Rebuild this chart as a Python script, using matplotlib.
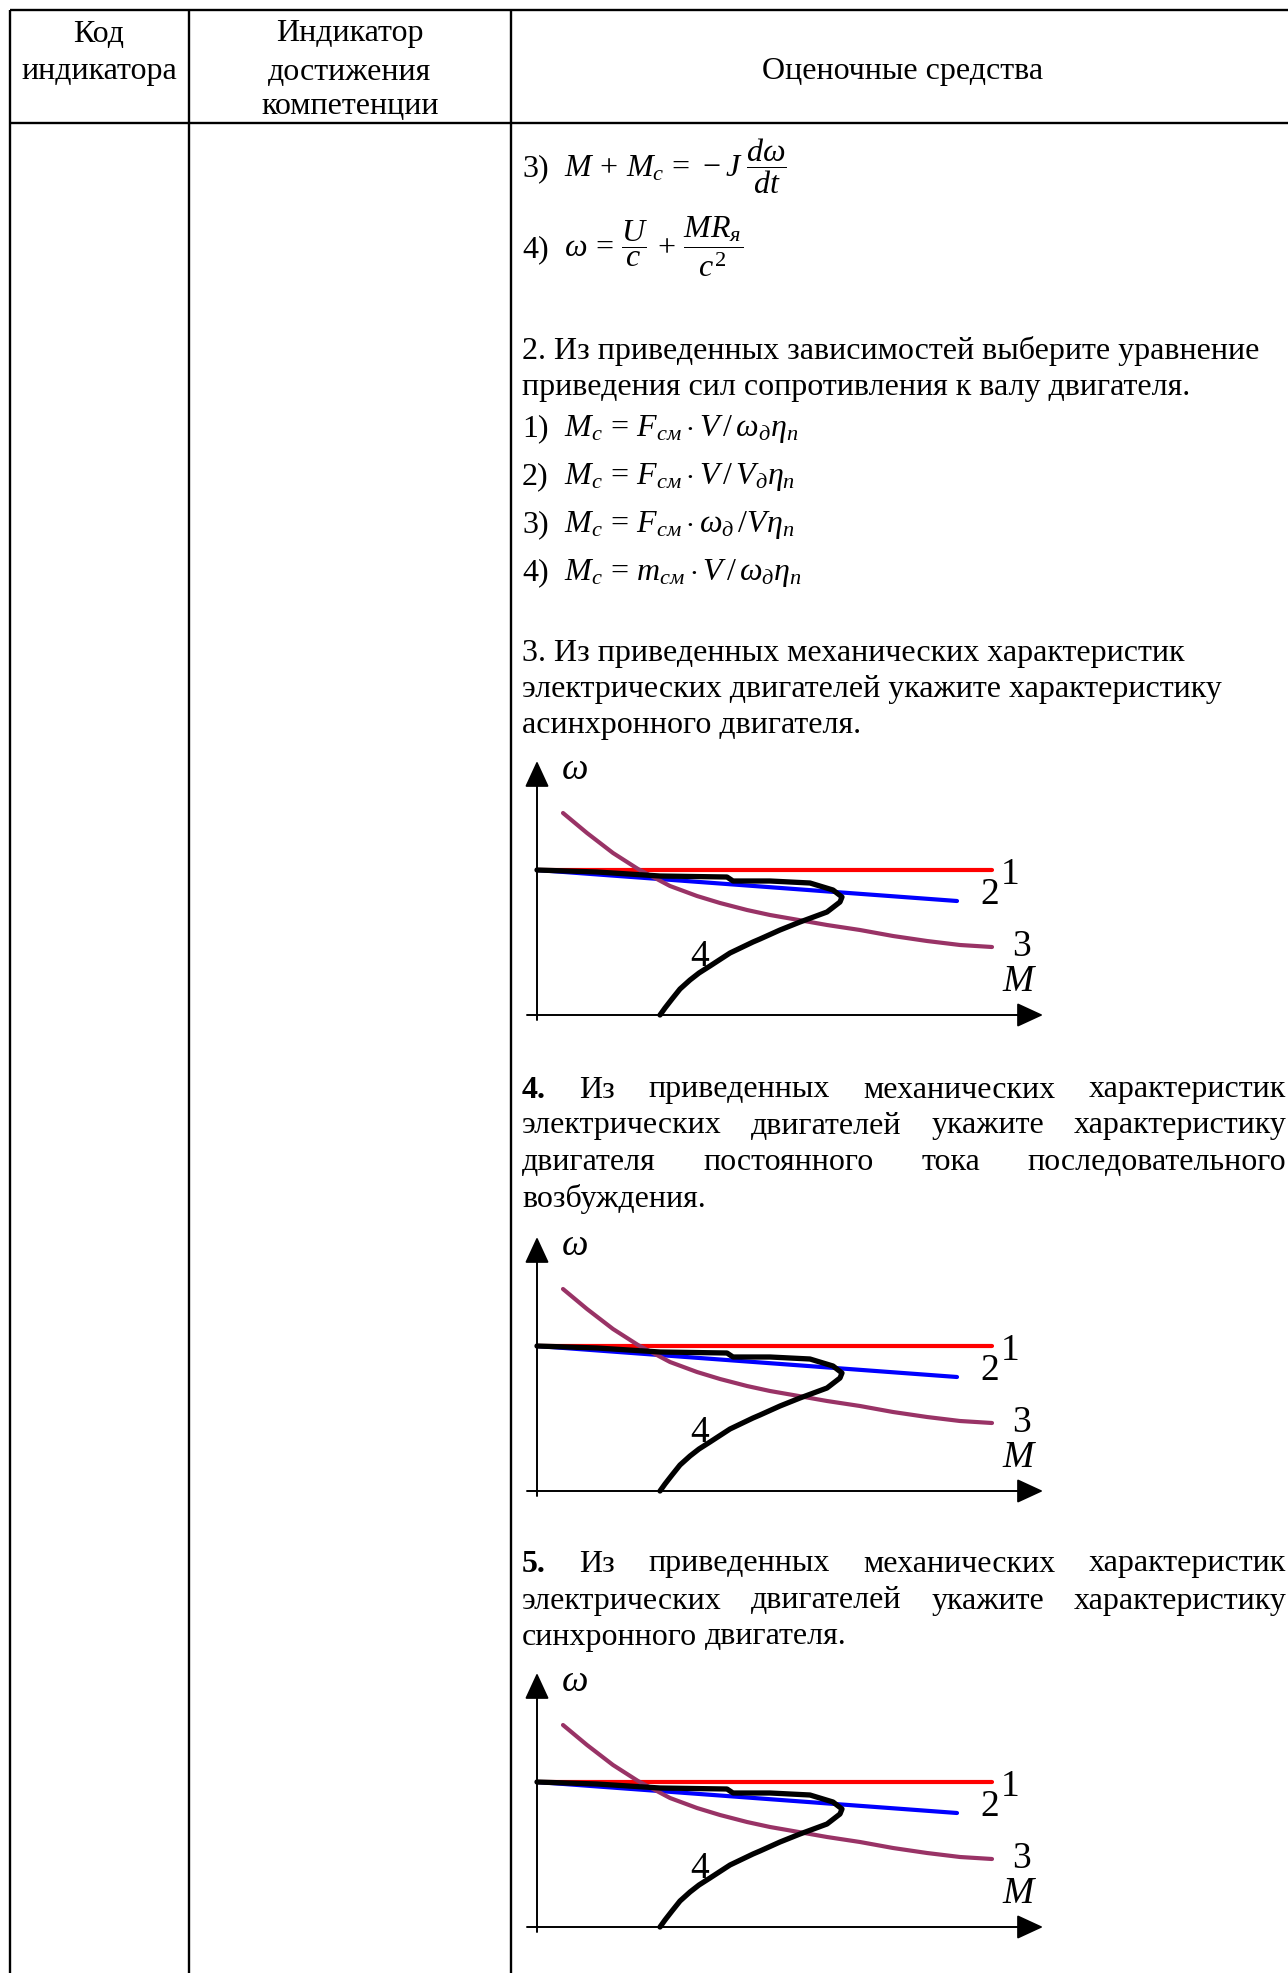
import matplotlib
matplotlib.use("Agg")
import matplotlib.pyplot as plt

# ---------------- data (chart curves, M and omega in chart units) ----------------
red_M = [0.0, 4.55]
red_w = [1.45, 1.45]

blue_M = [0.0, 4.20]
blue_w = [1.45, 1.14]

purple_M = [0.26, 0.50, 0.76, 1.01, 1.33, 1.60, 1.83, 2.10, 2.33, 2.56, 2.90,
            3.23, 3.56, 3.90, 4.23, 4.55]
purple_w = [2.02, 1.82, 1.62, 1.46, 1.29, 1.19, 1.12, 1.05, 1.00, 0.96, 0.90,
            0.85, 0.79, 0.74, 0.70, 0.68]

black_M = [0.0, 0.60, 1.23, 1.90, 1.96, 2.33, 2.73, 2.96, 3.05, 3.03, 2.90,
           2.63, 2.43, 2.23, 2.16, 1.93, 1.73, 1.62, 1.53, 1.43, 1.35, 1.28, 1.23]
black_w = [1.45, 1.43, 1.39, 1.38, 1.34, 1.34, 1.32, 1.25, 1.18, 1.13, 1.03,
           0.93, 0.85, 0.76, 0.73, 0.62, 0.49, 0.42, 0.35, 0.26, 0.16, 0.07, 0.0]

curve_labels = ["1", "2", "3", "4"]

# ---------------- texts ----------------
header_col1 = ["Код", "индикатора"]
header_col2 = ["Индикатор", "достижения", "компетенции"]
header_col3 = ["Оценочные средства"]

formulas_top = [
    ("3)", r"$\mathit{M}\, +\, \mathit{M}_{\mathit{с}}\, =\, -\mathit{J}\;\dfrac{\mathit{d}\omega}{\mathit{dt}}$"),
    ("4)", r"$\omega\, =\, \dfrac{\mathit{U}}{\mathit{c}}\, +\, \dfrac{\mathit{MR}_{\mathit{я}}}{\mathit{c}^{2}}$"),
]
par2 = ["2. Из приведенных зависимостей выберите уравнение",
        "приведения сил сопротивления к валу двигателя."]
answers2 = [
    ("1)", r"$\mathit{M}_{\mathit{с}}\, =\, \mathit{F}_{\mathit{см}}\cdot \mathit{V}\,/\,\omega_{\mathit{д}}\eta_{\mathit{п}}$"),
    ("2)", r"$\mathit{M}_{\mathit{с}}\, =\, \mathit{F}_{\mathit{см}}\cdot \mathit{V}\,/\,\mathit{V}_{\mathit{д}}\eta_{\mathit{п}}$"),
    ("3)", r"$\mathit{M}_{\mathit{с}}\, =\, \mathit{F}_{\mathit{см}}\cdot \omega_{\mathit{д}}\,/\mathit{V}\eta_{\mathit{п}}$"),
    ("4)", r"$\mathit{M}_{\mathit{с}}\, =\, \mathit{m}_{\mathit{см}}\cdot \mathit{V}\,/\,\omega_{\mathit{д}}\eta_{\mathit{п}}$"),
]
par3 = ["3. Из приведенных механических характеристик",
        "электрических двигателей укажите характеристику",
        "асинхронного двигателя."]
par4 = ["4. Из приведенных механических характеристик",
        "электрических двигателей укажите характеристику",
        "двигателя постоянного тока последовательного",
        "возбуждения."]
par5 = ["5. Из приведенных механических характеристик",
        "электрических двигателей укажите характеристику",
        "синхронного двигателя."]

# ---------------- style ----------------
plt.rcParams['font.family'] = ['Liberation Serif', 'DejaVu Serif']
plt.rcParams['mathtext.fontset'] = 'custom'
plt.rcParams['mathtext.rm'] = 'Liberation Serif'
plt.rcParams['mathtext.it'] = 'Liberation Serif:italic'
plt.rcParams['mathtext.bf'] = 'Liberation Serif:bold'

W, H = 1288, 1973
FS = 23
LBL = 27
DY = 3  # small downward shift of all text rows

fig = plt.figure(figsize=(W / 100, H / 100), dpi=100)
base = fig.add_axes([0, 0, 1, 1])
base.set_xlim(0, W)
base.set_ylim(H, 0)
base.axis('off')
renderer = fig.canvas.get_renderer()

# table grid
lw_t = 1.7
for x in [10, 189, 511]:
    base.plot([x, x], [10, H], color='black', lw=lw_t, solid_capstyle='butt')
for y in [10, 123]:
    base.plot([10, W], [y, y], color='black', lw=lw_t, solid_capstyle='butt')

# header
for txt, y in zip(header_col1, [31, 69]):
    base.text(99, y + DY, txt, fontsize=FS, ha='center', va='center')
for txt, y in zip(header_col2, [31, 69, 104]):
    base.text(350, y + DY, txt, fontsize=FS, ha='center', va='center')
base.text(903, 69 + DY, header_col3[0], fontsize=FS, ha='center', va='center')

X0 = 522
XR = 1286


def left_lines(lines, ys):
    for txt, y in zip(lines, ys):
        base.text(X0, y + DY, txt, fontsize=FS, ha='left', va='center')


def justify_lines(lines, ys):
    for k, (line, y) in enumerate(zip(lines, ys)):
        words = line.split()
        objs = []
        for i, w in enumerate(words):
            bold = (k == 0 and i == 0)
            objs.append(base.text(X0, y + DY, w, fontsize=FS, ha='left', va='center',
                                  fontweight='bold' if bold else 'normal'))
        widths = [t.get_window_extent(renderer).width for t in objs]
        if k == len(lines) - 1 or len(words) < 2:
            gap = FS * 0.25 * 100 / 72
        else:
            gap = (XR - X0 - sum(widths)) / (len(words) - 1)
        x = X0
        for t, wd in zip(objs, widths):
            t.set_x(x)
            x += wd + gap


def formula_lines(items, ys):
    # number and formula share one baseline
    for (num, f), y in zip(items, ys):
        yb = y + DY + 8
        base.text(X0, yb, num, fontsize=FS, ha='left', va='baseline')
        base.text(564, yb, f, fontsize=FS, ha='left', va='baseline')


formula_lines(formulas_top, [165, 246])
left_lines(par2, [348, 385])
formula_lines(answers2, [425, 473, 521, 569])
left_lines(par3, [650, 687, 723])
justify_lines(par4, [1087, 1123, 1160, 1196])
justify_lines(par5, [1561, 1598, 1634])


def draw_chart(y0):
    # y0 is the pixel row of the M axis, the omega axis sits at x = 537 px
    left, right = 515, 1055
    top, bottom = y0 - 262, y0 + 12
    ax = fig.add_axes([left / W, 1 - bottom / H, (right - left) / W, (bottom - top) / H])
    ax.set_xlim((left - 537) / 100, (right - 537) / 100)
    ax.set_ylim(-(bottom - y0) / 100, (y0 - top) / 100)
    ax.axis('off')

    arrow = dict(arrowstyle='-|>,head_length=0.65,head_width=0.3', color='black',
                 lw=1.4, mutation_scale=25, shrinkA=0, shrinkB=0)
    ax.annotate('', xy=(5.06, 0), xytext=(-0.10, 0), arrowprops=arrow)
    ax.annotate('', xy=(0, 2.54), xytext=(0, -0.05), arrowprops=arrow)

    ax.plot(red_M, red_w, color='#ff0000', lw=3.0, solid_capstyle='round')
    ax.plot(blue_M, blue_w, color='#0000ff', lw=3.0, solid_capstyle='round')
    ax.plot(purple_M, purple_w, color='#993366', lw=3.0, solid_capstyle='round',
            solid_joinstyle='round')
    ax.plot(black_M, black_w, color='black', lw=3.8, solid_capstyle='round',
            solid_joinstyle='round')

    for lbl, (mx, wy) in zip(curve_labels, [(4.73, 1.40), (4.53, 1.20), (4.85, 0.68), (1.63, 0.58)]):
        ax.text(mx, wy, lbl, fontsize=LBL, ha='center', va='center')
    ax.text(4.83, 0.33, r'$\mathit{M}$', fontsize=LBL, ha='center', va='center')
    ax.text(0.37, 2.45, r'$\omega$', fontsize=LBL, ha='center', va='center')


for y0 in [1015, 1491, 1927]:
    draw_chart(y0)

fig.savefig('out.png', dpi=100)
